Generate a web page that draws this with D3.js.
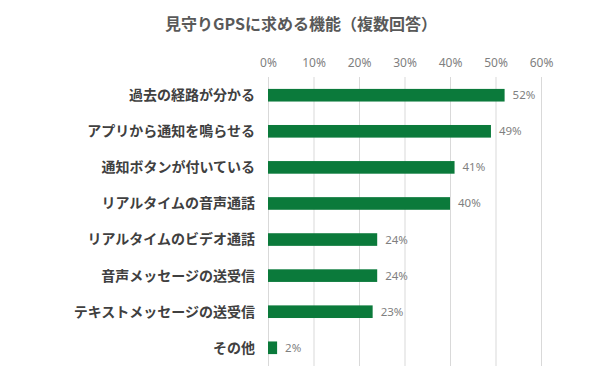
<!DOCTYPE html>
<html>
<head>
<meta charset="utf-8">
<script src="https://cdn.jsdelivr.net/npm/d3@7"></script>
<style>
  body { margin: 0; background: #fff; }
  text { font-family: "Noto Sans CJK JP", "Noto Sans", sans-serif; }
</style>
</head>
<body>
<div id="chart"></div>
<script>
const title = "見守りGPSに求める機能（複数回答）";
const categories = [
    "過去の経路が分かる",
    "アプリから通知を鳴らせる",
    "通知ボタンが付いている",
    "リアルタイムの音声通話",
    "リアルタイムのビデオ通話",
    "音声メッセージの送受信",
    "テキストメッセージの送受信",
    "その他"
];
const values = [52, 49, 41, 40, 24, 24, 23, 2];
const ticks = [0, 10, 20, 30, 40, 50, 60];

const width = 600, height = 376;
const margin = ({ top: 77, right: 59, bottom: 10, left: 268 });

const svg = d3.select("#chart").append("svg")
    .attr("width", width)
    .attr("height", height);

const x = d3.scaleLinear()
    .domain([0, 60])
    .range([margin.left, width - margin.right]);

const y = d3.scaleBand()
    .domain(categories)
    .range([margin.top, height - margin.bottom])
    .paddingInner(0.65)
    .paddingOuter(0.33);

// title
svg.append("text")
    .attr("x", 301)
    .attr("y", 30)
    .attr("text-anchor", "middle")
    .attr("fill", "#595959")
    .attr("font-size", 16)
    .attr("font-weight", "bold")
    .text(title);

// gridlines + top tick labels
const xAxis = svg.append("g")
    .attr("transform", `translate(0,${margin.top})`)
    .call(d3.axisTop(x).tickValues(ticks).tickFormat(d => d + "%").tickSize(-(height - margin.bottom - margin.top)).tickPadding(10));
xAxis.select(".domain").remove();
xAxis.selectAll(".tick line").attr("stroke", "#d9d9d9");
xAxis.selectAll(".tick text")
    .attr("fill", "#7f7f7f")
    .attr("font-size", 12)
    .style("font-family", "'Noto Sans', 'Noto Sans CJK JP', sans-serif");

// bars
svg.append("g")
    .selectAll("rect")
    .data(values)
    .join("rect")
    .attr("x", x(0))
    .attr("y", (d, i) => y(categories[i]))
    .attr("width", d => x(d) - x(0))
    .attr("height", y.bandwidth())
    .attr("fill", "#0b7a3b");

// value labels
svg.append("g")
    .selectAll("text")
    .data(values)
    .join("text")
    .attr("x", d => x(d) + 8)
    .attr("y", (d, i) => y(categories[i]) + y.bandwidth() / 2)
    .attr("dy", "0.35em")
    .attr("fill", "#7f7f7f")
    .attr("font-size", 11.5)
    .style("font-family", "'Noto Sans', 'Noto Sans CJK JP', sans-serif")
    .text(d => d + "%");

// category labels
svg.append("g")
    .selectAll("text")
    .data(categories)
    .join("text")
    .attr("x", margin.left - 13)
    .attr("y", d => y(d) + y.bandwidth() / 2)
    .attr("dy", "0.35em")
    .attr("text-anchor", "end")
    .attr("fill", "#404040")
    .attr("font-size", 14)
    .attr("font-weight", "bold")
    .text(d => d);
</script>
</body>
</html>
